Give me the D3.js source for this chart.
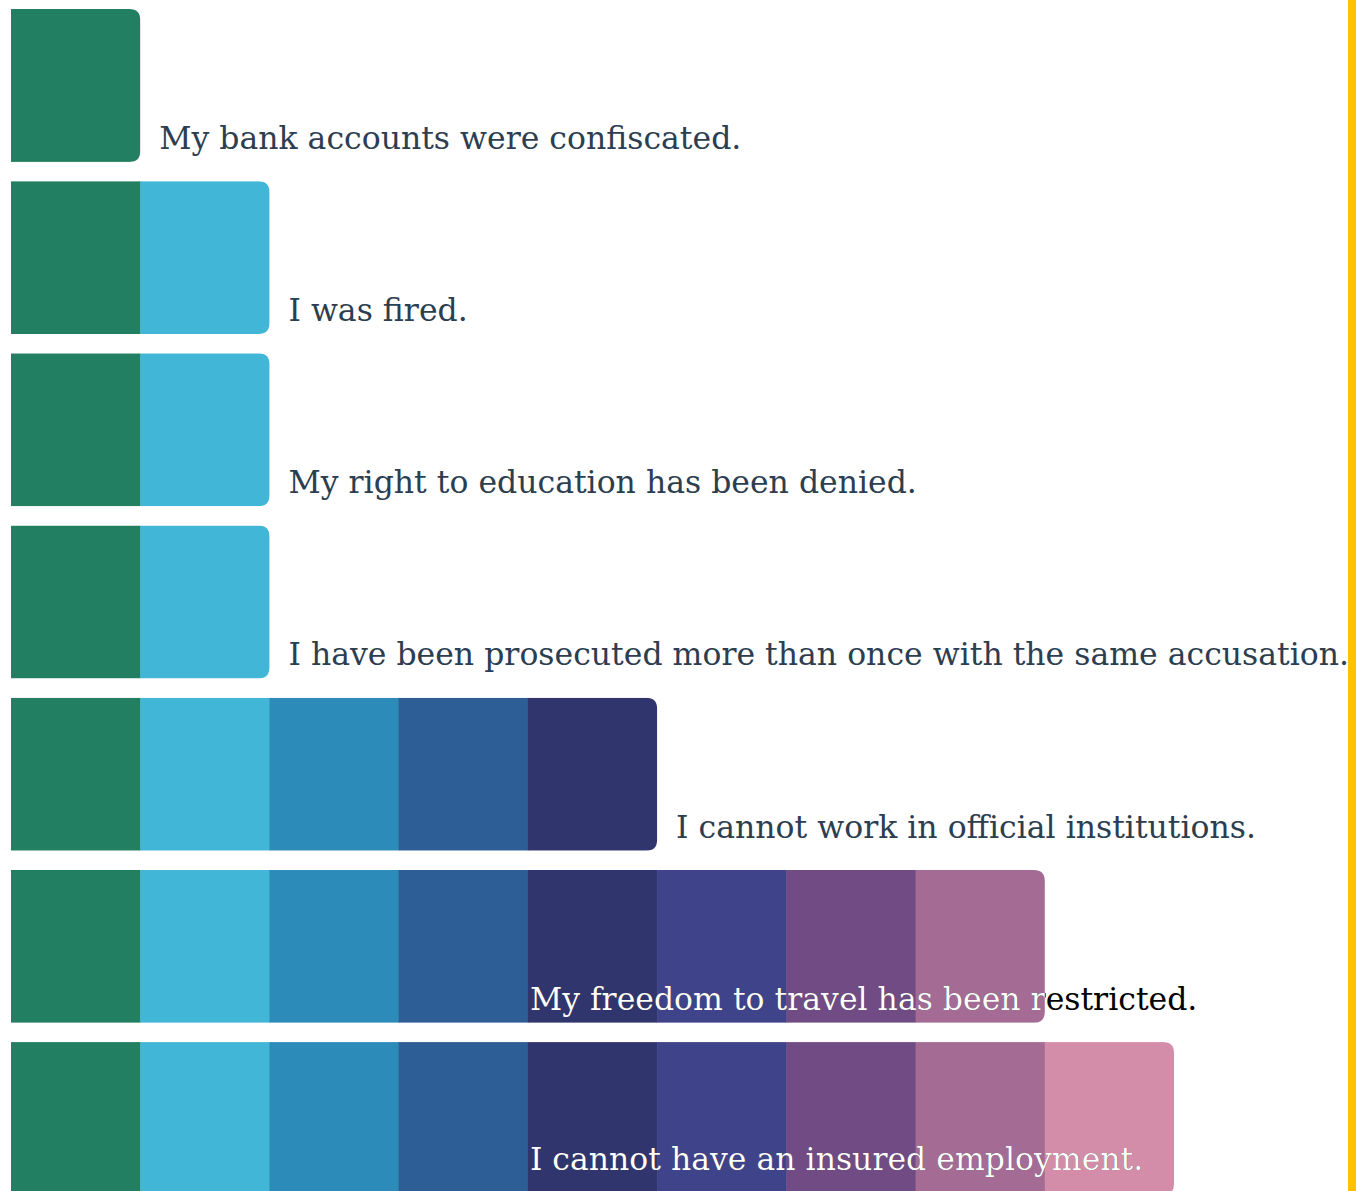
<!DOCTYPE html>
<meta charset="utf-8">
<style>

body {
  margin: 0;
  background: #fff;
  overflow: hidden;
}

.label {
  font-family: "DejaVu Serif", serif;
  font-size: 31.5px;
}

</style>
<body>
<script src="https://cdn.jsdelivr.net/npm/d3@7"></script>
<script>

var w = 1356,
    h = 1191;

var labels = [
  "My bank accounts were confiscated.",
  "I was fired.",
  "My right to education has been denied.",
  "I have been prosecuted more than once with the same accusation.",
  "I cannot work in official institutions.",
  "My freedom to travel has been restricted.",
  "I cannot have an insured employment."
];

var counts = [1, 2, 2, 2, 5, 8, 9];

var colors = ["#237f62", "#42b6d6", "#2d8bb9", "#2d5e96", "#31356e",
              "#3f438a", "#714c84", "#a46b95", "#d48da8"];

var rows = labels.map(function(l, i) { return {label: l, count: counts[i], i: i}; });

var x = d3.scaleLinear()
    .domain([0, 9])
    .range([11, 1174]);

var y = d3.scaleBand()
    .domain(d3.range(rows.length))
    .range([9, 1195])
    .paddingInner(0.112);

var r = 11;

var svg = d3.select("body").append("svg")
    .attr("width", w)
    .attr("height", h);

var defs = svg.append("defs");

function barPath(d) {
  var x0 = x(0), x1 = x(d.count), y0 = y(d.i), y1 = y0 + y.bandwidth();
  return "M" + x0 + "," + y0 +
      "H" + (x1 - r) +
      "Q" + x1 + "," + y0 + " " + x1 + "," + (y0 + r) +
      "V" + (y1 - r) +
      "Q" + x1 + "," + y1 + " " + (x1 - r) + "," + y1 +
      "H" + x0 + "Z";
}

defs.selectAll("clipPath")
    .data(rows)
  .enter().append("clipPath")
    .attr("id", function(d) { return "bar" + d.i; })
  .append("path")
    .attr("d", barPath);

var row = svg.selectAll("g.row")
    .data(rows)
  .enter().append("g")
    .attr("class", "row");

row.append("g")
    .attr("clip-path", function(d) { return "url(#bar" + d.i + ")"; })
  .selectAll("rect")
    .data(function(d) { return d3.range(d.count).map(function(k) { return {k: k, i: d.i}; }); })
  .enter().append("rect")
    .attr("x", function(d) { return x(d.k); })
    .attr("y", function(d) { return y(d.i); })
    .attr("width", function(d) { return x(d.k + 1) - x(d.k) + (d.k < 8 ? 0.5 : 0); })
    .attr("height", y.bandwidth())
    .attr("fill", function(d) { return colors[d.k]; });

row.each(function(d) {
  var g = d3.select(this),
      bottom = y(d.i) + y.bandwidth(),
      ty = Math.min(bottom - 13, h - 21),
      tx = x(d.count) + 19;

  var t = g.append("text")
      .attr("class", "label")
      .attr("x", tx)
      .attr("y", ty)
      .attr("fill", "#2c3e50")
      .text(d.label);

  // labels that would run off the page go inside the bar, white where they overlap it
  var len = t.node().getComputedTextLength();
  if (tx + len > w) {
    tx = x(4) + 2;
    t.attr("x", tx).attr("fill", "#000");
    g.append("text")
        .attr("class", "label")
        .attr("x", tx)
        .attr("y", ty)
        .attr("fill", "#fff")
        .attr("clip-path", "url(#bar" + d.i + ")")
        .text(d.label);
  }
});

svg.append("rect")
    .attr("x", w - 8)
    .attr("y", 0)
    .attr("width", 8)
    .attr("height", h)
    .attr("fill", "#fec200");

</script>
</body>
